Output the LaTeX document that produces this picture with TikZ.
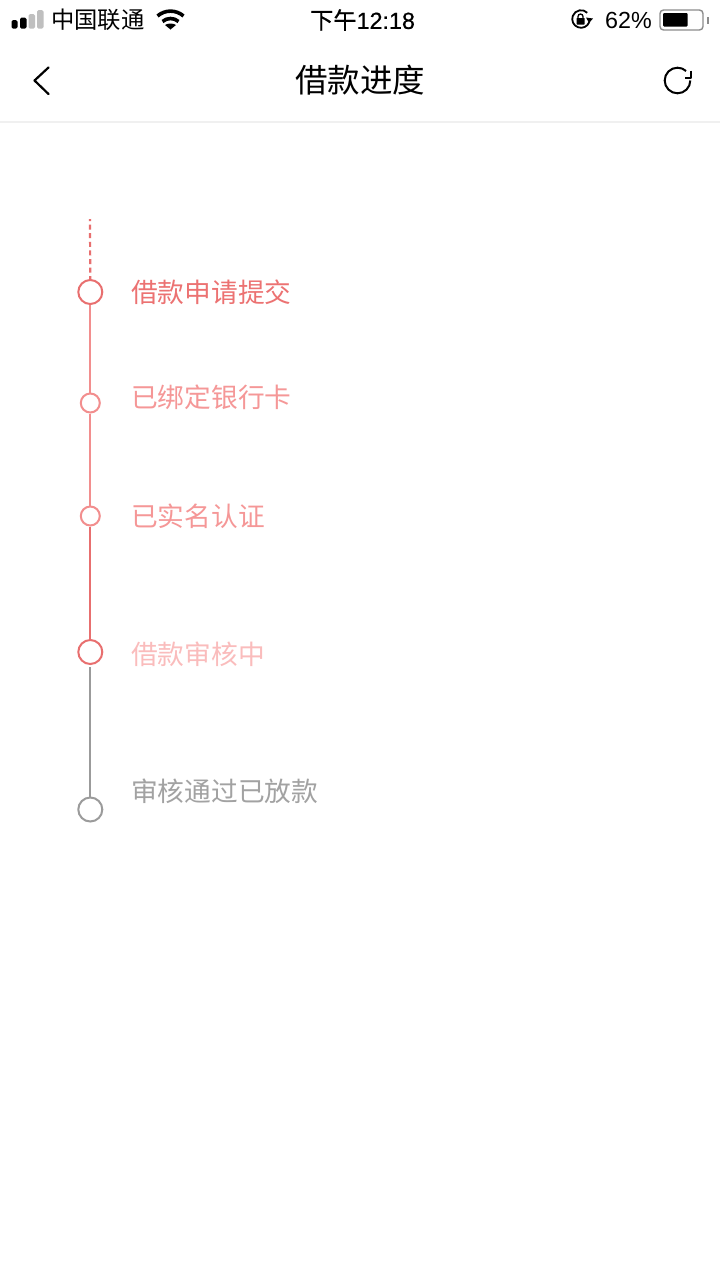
\documentclass[tikz,border=0pt]{standalone}
\usepackage{fontspec}
\newfontfamily\cjk{Noto Sans CJK SC}
\newfontfamily\cjkmed[FakeBold=0.6]{Noto Sans CJK SC}
\setmainfont{Liberation Sans}
\newfontfamily\timefont[FakeBold=0.6]{Liberation Sans}
\definecolor{redline}{HTML}{E86F6F}
\definecolor{pinkline}{HTML}{F28E8E}
\definecolor{greyline}{HTML}{9B9B9B}
\definecolor{firsttext}{HTML}{EC7272}
\definecolor{donetext}{HTML}{F59797}
\definecolor{nowtext}{HTML}{FABCBC}
\definecolor{greytext}{HTML}{A2A2A2}
\tikzset{
  bigdot/.style={circle,draw,line width=2pt,minimum size=24pt,inner sep=0pt},
  smalldot/.style={circle,draw,line width=2pt,minimum size=19pt,inner sep=0pt},
  steptext/.style={anchor=west,inner sep=0pt,font=\cjk\fontsize{26.7pt}{30pt}\selectfont},
  statustext/.style={inner sep=0pt,font=\fontsize{23.3pt}{26pt}\selectfont},
  link/.style={line width=2.2pt}
}
\begin{document}
\begin{tikzpicture}[x=1pt,y=-1pt]
      \useasboundingbox[fill=white] (0,0) rectangle (720,1280);
      % status bar
      \fill[black,rounded corners=1.5pt] (11.5,20) rectangle (17.5,28.5);
      \fill[black,rounded corners=1.5pt] (20,17.5) rectangle (26.5,28.5);
      \fill[black!25,rounded corners=1.5pt] (28.5,14) rectangle (35,28.5);
      \fill[black!25,rounded corners=1.5pt] (37,10) rectangle (43.5,28.5);
      \node[statustext,anchor=west] (carrier) at (51,20) {\cjk 中国联通};
      \draw[line width=3.6pt] (157.5,16) .. controls (165,9.5) and (176,9.5) .. (183.5,16);
      \draw[line width=3.6pt] (162.5,21.5) .. controls (167,17.5) and (174,17.5) .. (178.5,21.5);
      \fill (165,25) .. controls (168,23) and (173,23) .. (176,25) -- (170.5,29.5) -- cycle;
      \node[statustext] (clock) at (362.5,20) {{\cjkmed 下午}{\timefont 12:18}};
      \draw[line width=1.8pt] (589.3,22) arc (20:315:8.8);
      \fill (586,17.5) -- (593,18.5) -- (589,23) -- cycle;
      \fill[rounded corners=0.5pt] (576.5,18) rectangle (584.5,24.5);
      \draw[line width=1.3pt] (578,18) -- (578,16.5) arc (180:360:2.5) -- (583,18);
      \node[statustext,anchor=west] (percent) at (605,20) {62\%};
      \draw[black!45,line width=1.4pt,rounded corners=3.5pt] (660,10) rectangle (703,30);
      \fill[black,rounded corners=1pt] (663,13) rectangle (687.5,26.5);
      \fill[black!45] (707,16.5) rectangle (709,23.5);
      % title bar
      \draw[line width=2.2pt,line cap=round,line join=round] (48.5,67.5) -- (34.5,80.5) -- (48.5,94);
      \node[inner sep=0pt,font=\cjk\fontsize{32.5pt}{36pt}\selectfont] (title) at (360,80) {借款进度};
      \draw[line width=2pt] (690.3,80.5) arc (0:312:12.8);
      \draw[line width=2pt,line join=round] (691,70.5) -- (691,77.5) -- (684.5,77.5);
      \draw[black!6,line width=1.5pt] (0,122) -- (720,122);
      % progress
      \coordinate (start) at (90,219);
      \node[bigdot,draw=redline] (submit) at (90.3,292) {};
      \node[smalldot,draw=pinkline] (card) at (90.3,403) {};
      \node[smalldot,draw=pinkline] (realname) at (90.3,516) {};
      \node[bigdot,draw=redline] (review) at (90.3,652) {};
      \node[bigdot,draw=greyline] (paid) at (90.3,809.5) {};
      \draw[link,redline,dash pattern=on 5pt off 3.6pt,dash phase=3pt] (start) -- (submit);
      \draw[link,pinkline] (submit) -- (card);
      \draw[link,pinkline] (card) -- (realname);
      \draw[link,redline] (realname) -- (review);
      \draw[link,greyline,shorten <=2pt] (review) -- (paid);
      \node[steptext,text=firsttext] (submittext) at (131,292) {借款申请提交};
      \node[steptext,text=donetext] (cardtext) at (131,397) {已绑定银行卡};
      \node[steptext,text=donetext] (realnametext) at (131,516) {已实名认证};
      \node[steptext,text=nowtext] (reviewtext) at (131,654) {借款审核中};
      \node[steptext,text=greytext] (paidtext) at (131,791) {审核通过已放款};
    \end{tikzpicture}
\end{document}
